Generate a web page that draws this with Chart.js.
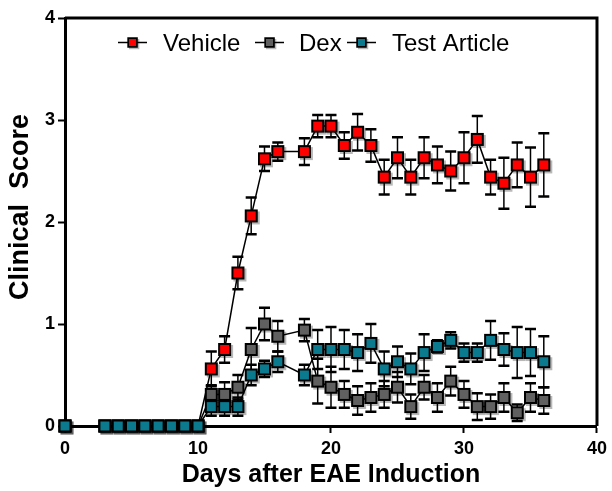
<!DOCTYPE html>
<html>
<head>
<meta charset="utf-8">
<script src="https://cdn.jsdelivr.net/npm/chart.js@4.4.1/dist/chart.umd.min.js"></script>
<style>
  html, body { margin: 0; padding: 0; background: #fff; }
</style>
</head>
<body>
<canvas id="chartEAE" width="612" height="491"></canvas>
<script>
// datos (dia 17 sin medicion)
const dias = [0, 3, 4, 5, 6, 7, 8, 9, 10, 11, 12, 13, 14, 15, 16,
  18, 19, 20, 21, 22, 23, 24, 25, 26, 27, 28, 29, 30, 31, 32, 33, 34, 35, 36]

const vehiculo = [0, 0, 0, 0, 0, 0, 0, 0, 0, 0.56, 0.75, 1.50, 2.06, 2.62, 2.69,
  2.69, 2.94, 2.94, 2.75, 2.88, 2.75, 2.44, 2.63, 2.44, 2.63, 2.56, 2.50, 2.63, 2.81, 2.44, 2.38, 2.56, 2.44, 2.56]
const vehiculoErr = [0, 0, 0, 0, 0, 0, 0, 0, 0, 0.17, 0.13, 0.16, 0.18, 0.12, 0.09,
  0.13, 0.11, 0.11, 0.13, 0.18, 0.16, 0.17, 0.20, 0.17, 0.20, 0.18, 0.19, 0.25, 0.23, 0.17, 0.25, 0.22, 0.29, 0.31]

const dex = [0, 0, 0, 0, 0, 0, 0, 0, 0, 0.31, 0.31, 0.38, 0.75, 1.00, 0.88,
  0.94, 0.44, 0.38, 0.31, 0.25, 0.28, 0.31, 0.38, 0.19, 0.38, 0.28, 0.44, 0.31, 0.19, 0.19, 0.28, 0.13, 0.28, 0.25]
const dexErr = [0, 0, 0, 0, 0, 0, 0, 0, 0, 0.09, 0.12, 0.12, 0.21, 0.16, 0.15,
  0.11, 0.22, 0.20, 0.13, 0.14, 0.14, 0.13, 0.15, 0.12, 0.12, 0.14, 0.14, 0.13, 0.13, 0.12, 0.14, 0.08, 0.14, 0.13]

const articulo = [0, 0, 0, 0, 0, 0, 0, 0, 0, 0.19, 0.19, 0.19, 0.50, 0.56, 0.63,
  0.50, 0.75, 0.75, 0.75, 0.72, 0.81, 0.56, 0.63, 0.56, 0.72, 0.78, 0.84, 0.72, 0.72, 0.84, 0.75, 0.72, 0.72, 0.63]
const articuloErr = [0, 0, 0, 0, 0, 0, 0, 0, 0, 0.09, 0.09, 0.09, 0.10, 0.08, 0.10,
  0.10, 0.19, 0.22, 0.19, 0.18, 0.19, 0.17, 0.15, 0.15, 0.18, 0.06, 0.08, 0.09, 0.09, 0.19, 0.16, 0.25, 0.23, 0.25]

const etiquetas = ["Vehicle", "Dex", "Test Article"]
const colores = ["#ff0000", "#606060", "#0b7a8f"]
const tituloY = "Clinical  Score"

const FUENTE = '"Liberation Sans", Arial, sans-serif'
Chart.defaults.font.family = FUENTE
Chart.defaults.color = "#000"

// marcador cuadrado con sombra gris
function crearMarcador(color) {
  const c = document.createElement("canvas")
  c.width = 19
  c.height = 19
  const g = c.getContext("2d")
  g.fillStyle = "rgba(0,0,0,0.28)"
  g.fillRect(5, 5, 13, 13)
  g.fillStyle = "#000"
  g.fillRect(3, 3, 13, 13)
  g.fillStyle = color
  g.fillRect(5, 5, 9, 9)
  return c
}
const marcadores = colores.map(crearMarcador)

function puntos(valores) {
  return dias.map((d, i) => ({ x: d, y: valores[i] }))
}

const barrasError = {
  id: "barrasError",
  beforeDatasetsDraw(chart) {
    const ctx = chart.ctx
    const ejeY = chart.scales.y
    chart.data.datasets.forEach((ds, i) => {
      const meta = chart.getDatasetMeta(i)
      meta.data.forEach((pt, j) => {
        const e = ds.errores[j]
        if (!e) return
        const v = ds.data[j].y
        const arriba = ejeY.getPixelForValue(v + e)
        const abajo = ejeY.getPixelForValue(v - e)
        ctx.save()
        ctx.strokeStyle = "#000"
        ctx.lineWidth = 1.5
        ctx.beginPath()
        ctx.moveTo(pt.x, arriba)
        ctx.lineTo(pt.x, abajo)
        ctx.stroke()
        ctx.lineWidth = 2.5
        ctx.beginPath()
        ctx.moveTo(pt.x - 5.5, arriba)
        ctx.lineTo(pt.x + 5.5, arriba)
        ctx.moveTo(pt.x - 5.5, abajo)
        ctx.lineTo(pt.x + 5.5, abajo)
        ctx.stroke()
        ctx.restore()
      })
    })
  },
}

// marco superior y derecho + titulo del eje y
const marco = {
  id: "marco",
  beforeDatasetsDraw(chart) {
    const { ctx, chartArea: a } = chart
    ctx.save()
    ctx.strokeStyle = "#000"
    ctx.lineWidth = 3
    ctx.beginPath()
    ctx.moveTo(a.left, a.top)
    ctx.lineTo(a.right, a.top)
    ctx.lineTo(a.right, a.bottom)
    ctx.stroke()
    ctx.translate(20.5, 207)
    ctx.rotate(-Math.PI / 2)
    ctx.font = "bold 27px " + FUENTE
    ctx.fillStyle = "#000"
    ctx.textAlign = "center"
    ctx.textBaseline = "middle"
    ctx.fillText(tituloY, 0, 0)
    ctx.restore()
  },
}

// leyenda dentro del area del grafico
const leyenda = {
  id: "leyenda",
  afterDraw(chart) {
    const ctx = chart.ctx
    const simboloX = [118, 255, 347]
    const textoX = [163, 299, 392]
    const yc = 42.5
    ctx.save()
    chart.data.datasets.forEach((ds, i) => {
      ctx.strokeStyle = "#000"
      ctx.lineWidth = 1.5
      ctx.beginPath()
      ctx.moveTo(simboloX[i], yc)
      ctx.lineTo(simboloX[i] + 29, yc)
      ctx.stroke()
      const m = marcadores[i]
      const s = 0.8
      ctx.drawImage(m, simboloX[i] + 14.5 - m.width * s / 2, yc - m.height * s / 2, m.width * s, m.height * s)
      ctx.fillStyle = "#000"
      ctx.font = "24px " + FUENTE
      ctx.textBaseline = "alphabetic"
      ctx.fillText(ds.label, textoX[i], 51)
    })
    ctx.restore()
  },
}

function serie(i, valores, errores, orden) {
  return {
    label: etiquetas[i],
    data: puntos(valores),
    errores: errores,
    showLine: true,
    borderColor: "#000",
    borderWidth: 1.5,
    pointStyle: marcadores[i],
    pointRadius: 7,
    tension: 0,
    clip: false,
    order: orden,
  }
}

new Chart(document.getElementById("chartEAE"), {
  type: "scatter",
  data: {
    datasets: [
      serie(0, vehiculo, vehiculoErr, 2),
      serie(1, dex, dexErr, 1),
      serie(2, articulo, articuloErr, 0),
    ],
  },
  options: {
    responsive: false,
    animation: false,
    layout: { padding: { left: 0, right: 12, top: 18, bottom: 0 } },
    plugins: {
      legend: { display: false },
      tooltip: { enabled: false },
    },
    scales: {
      x: {
        type: "linear",
        min: 0,
        max: 40,
        afterFit: (s) => { s.height = 65 },
        ticks: { stepSize: 10, padding: 5, font: { size: 18, weight: "bold" } },
        grid: { drawOnChartArea: false, tickLength: 7, tickWidth: 2, tickColor: "#000" },
        border: { color: "#000", width: 3 },
        title: {
          display: true,
          text: "Days after EAE Induction",
          font: { size: 25, weight: "bold", lineHeight: 1.2 },
          padding: { top: 0, bottom: 1 },
        },
      },
      y: {
        min: 0,
        max: 4,
        afterFit: (s) => { s.width = 65 },
        ticks: { stepSize: 1, padding: 3, font: { size: 18, weight: "bold" } },
        grid: { drawOnChartArea: false, tickLength: 7, tickWidth: 2, tickColor: "#000" },
        border: { color: "#000", width: 3 },
      },
    },
  },
  plugins: [barrasError, marco, leyenda],
})
</script>
</body>
</html>
